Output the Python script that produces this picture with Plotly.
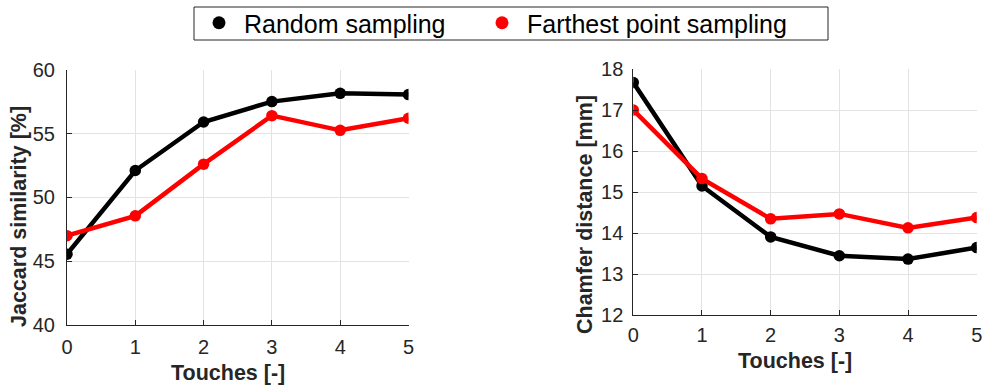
import plotly.graph_objects as go

touches = [0, 1, 2, 3, 4, 5]
jac_random = [45.55, 52.1, 55.9, 57.5, 58.15, 58.05]
jac_fps = [47.0, 48.55, 52.6, 56.4, 55.25, 56.2]
cd_random = [17.67, 15.15, 13.91, 13.45, 13.37, 13.65]
cd_fps = [17.0, 15.33, 14.35, 14.47, 14.13, 14.38]
series_names = ["Random sampling", "Farthest point sampling"]
series_colors = ["#000000", "#ff0000"]
x_title = "Touches [-]"
y_titles = ["Jaccard similarity [%]", "Chamfer distance [mm]"]

W, H = 982, 385
fig = go.Figure()

def add(x, y, color, xa, ya):
    fig.add_trace(go.Scatter(x=x, y=y, mode="lines+markers", xaxis=xa, yaxis=ya,
                             line=dict(color=color, width=4.5),
                             marker=dict(color=color, size=11.5),
                             showlegend=False))

add(touches, jac_random, series_colors[0], "x", "y")
add(touches, jac_fps, series_colors[1], "x", "y")
add(touches, cd_random, series_colors[0], "x2", "y2")
add(touches, cd_fps, series_colors[1], "x2", "y2")

for i, (name, color) in enumerate(zip(series_names, series_colors)):
    fig.add_trace(go.Scatter(x=[None], y=[None], mode="markers", name=name,
                             marker=dict(color=color, size=13), showlegend=True,
                             legend="legend" if i == 0 else "legend2"))

FONT = "Liberation Sans, Arial, sans-serif"
tick_font = dict(family=FONT, size=20, color="#262626")
title_font = dict(family=FONT, size=21.5, color="#262626")
grid = "#e3e3e3"

def xax(domain, anchor, standoff):
    return dict(domain=domain, anchor=anchor, range=[0, 5], tickvals=touches,
                showgrid=True, gridcolor=grid, gridwidth=1, zeroline=False,
                showline=True, linecolor="#262626", linewidth=1,
                ticks="inside", ticklen=5, tickcolor="#262626",
                tickfont=tick_font, ticklabelstandoff=standoff, automargin=False,
                ticklabeloverflow="allow")

def yax(domain, anchor, rng, dtick, standoff):
    return dict(domain=domain, anchor=anchor, range=rng, dtick=dtick,
                showgrid=True, gridcolor=grid, gridwidth=1, zeroline=False,
                showline=True, linecolor="#262626", linewidth=1,
                ticks="inside", ticklen=5, tickcolor="#262626",
                tickfont=tick_font, ticklabelstandoff=standoff, automargin=False,
                ticklabeloverflow="allow")

def ann(text, x, y, angle=0):
    return dict(text=f"<b>{text}</b>", xref="paper", yref="paper", x=x / W, y=1 - y / H,
                xanchor="center", yanchor="middle", showarrow=False, textangle=angle,
                font=title_font)

leg_common = dict(orientation="h", xanchor="left", y=1.0, yanchor="top",
                  borderwidth=0, bgcolor="rgba(0,0,0,0)",
                  font=dict(family=FONT, size=25, color="#000000"), itemwidth=40)

fig.update_layout(
    width=W, height=H,
    margin=dict(l=0, r=0, t=0, b=0, autoexpand=False),
    paper_bgcolor="white", plot_bgcolor="white",
    xaxis=xax([67 / W, 408.5 / W], "y", 4),
    yaxis=yax([(H - 325) / H, (H - 69.7) / H], "x", [40, 60], 5, 7),
    xaxis2=xax([633.3 / W, 976.7 / W], "y2", 2),
    yaxis2=yax([(H - 315.3) / H, (H - 69) / H], "x2", [12, 18], 1, 5),
    annotations=[ann(x_title, 228, 373), ann(x_title, 795, 361),
                 ann(y_titles[0], 19, 217, -90), ann(y_titles[1], 585, 215, -90)],
    shapes=[dict(type="rect", xref="paper", yref="paper",
                 x0=194 / W, x1=828 / W, y0=1 - 40 / H, y1=1 - 7 / H,
                 line=dict(color="#262626", width=1), fillcolor="white", layer="above")],
    legend=dict(x=194 / W, **leg_common),
    legend2=dict(x=477 / W, **leg_common),
)

fig.write_html("out.html")
